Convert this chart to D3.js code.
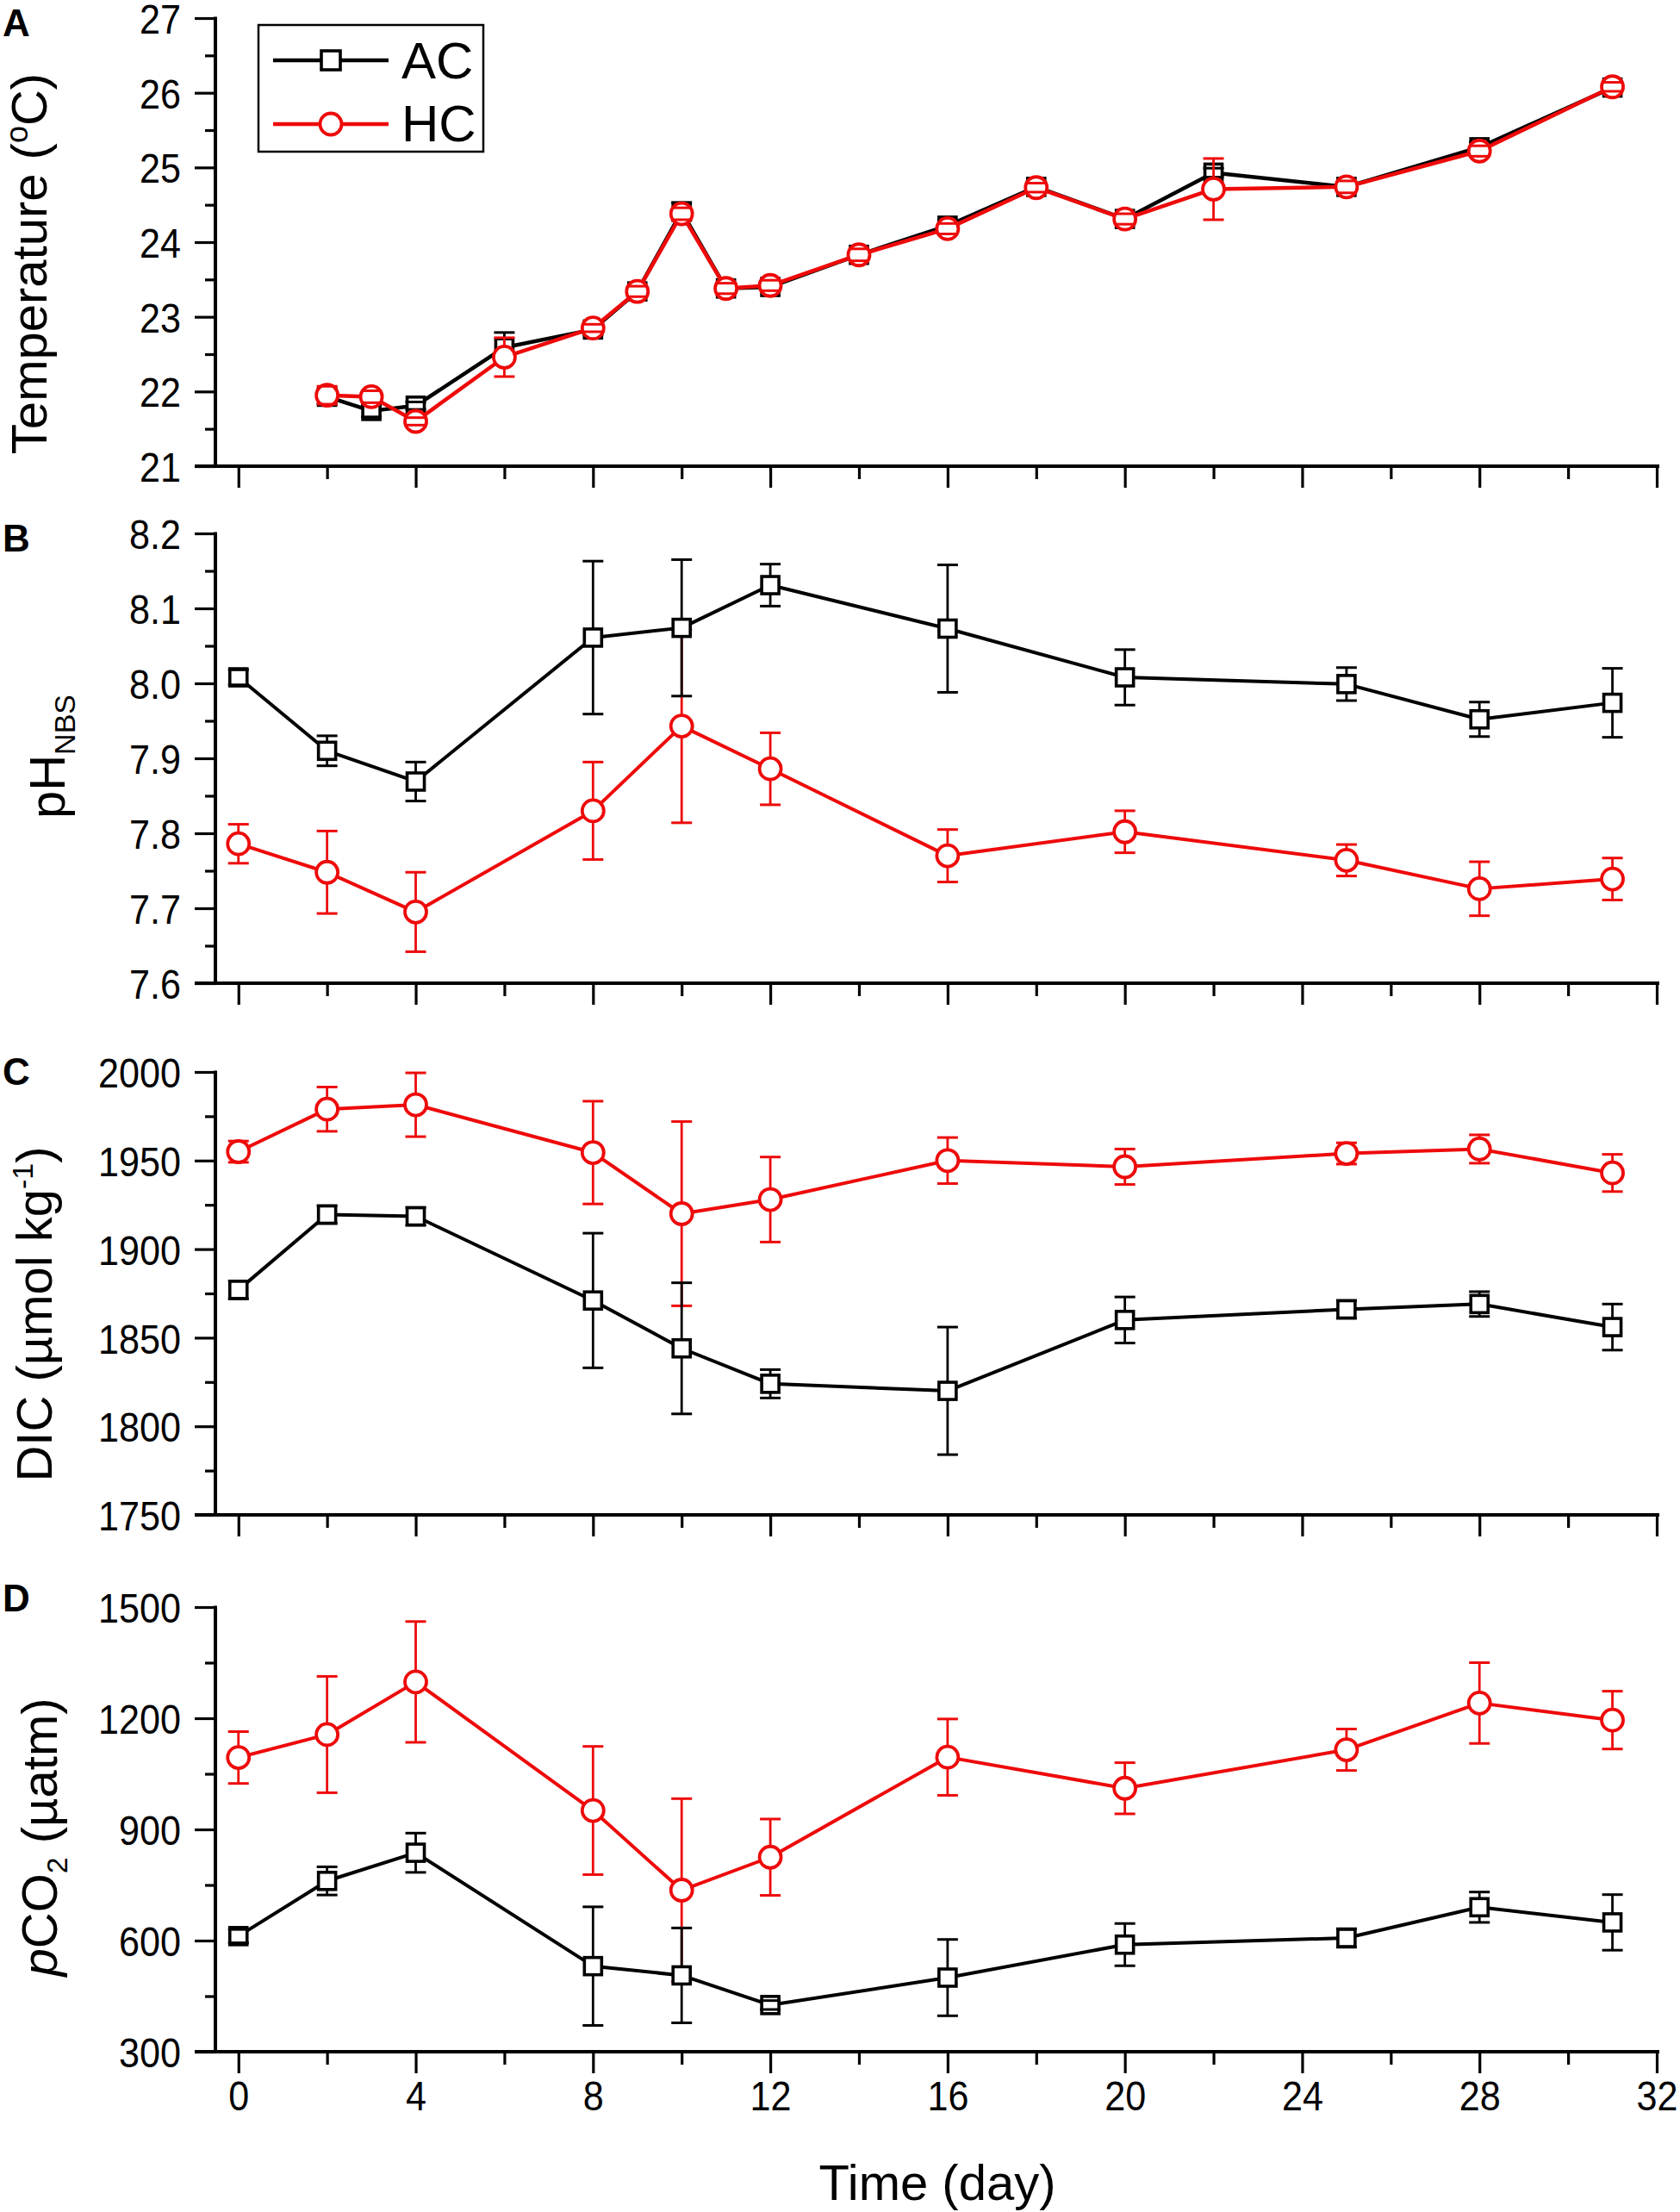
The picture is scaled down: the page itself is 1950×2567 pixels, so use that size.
<!DOCTYPE html>
<html><head><meta charset="utf-8">
<script src="https://cdn.jsdelivr.net/npm/d3@7"></script>
<style>
body{margin:0;background:#fff}
text{font-family:"Liberation Sans",Arial,Helvetica,sans-serif;fill:#000}
</style>
</head><body>
<svg id="c" width="1950" height="2567" xmlns="http://www.w3.org/2000/svg"></svg>
<script>
// ---------------- DATA ----------------
const tempDays  = [2,3,4,6,8,9,10,11,12,14,16,18,20,22,25,28,31];
const tempAC    = [21.93,21.74,21.81,22.59,22.83,23.34,24.41,23.38,23.40,23.83,24.22,24.74,24.31,24.93,24.74,25.27,26.07];
const tempACerr = [0.10,0.08,0.05,0.20,0.07,0.07,0.12,0.07,0.06,0.06,0.07,0.07,0.06,0.06,0.06,0.07,0.06];
const tempHC    = [21.95,21.93,21.60,22.46,22.85,23.34,24.38,23.38,23.42,23.83,24.18,24.73,24.31,24.71,24.74,25.22,26.08];
const tempHCerr = [0.12,0.08,0.05,0.26,0.05,0.07,0.08,0.07,0.07,0.08,0.07,0.06,0.07,0.41,0.08,0.07,0.06];

const chemDays  = [0,2,4,8,10,12,16,20,25,28,31];
const phAC      = [8.008,7.910,7.869,8.061,8.074,8.131,8.073,8.008,7.999,7.952,7.974];
const phACerr   = [0.010,0.020,0.026,0.102,0.091,0.028,0.085,0.037,0.022,0.023,0.046];
const phHC      = [7.786,7.748,7.695,7.830,7.943,7.886,7.770,7.802,7.764,7.726,7.739];
const phHCerr   = [0.026,0.055,0.053,0.065,0.129,0.048,0.035,0.028,0.021,0.036,0.028];

const dicAC     = [1877,1919.5,1918.5,1871,1844,1824,1820,1860,1866,1869,1856];
const dicACerr  = [5,5,5,38,37,8,36,13,5,7,13];
const dicHC     = [1955,1979,1981.5,1954.5,1920,1928,1950,1946.5,1954,1956.5,1943];
const dicHCerr  = [6,12.5,18,29,52,24,13,10,6,8,10.5];

const pco2AC    = [612,761,837,531,506,426,500,589,607,690,649];
const pco2ACerr = [18,38,53,160,128,12,103,57,25,41,75];
const pco2HC    = [1094,1156,1298,951,736,825,1095,1011,1115,1241,1195];
const pco2HCerr = [70,157,163,173,247,103,103,69,56,109,78];

const xMajorTicks = [0,4,8,12,16,20,24,28,32];
const xMinorTicks = [2,6,10,14,18,22,26,30];
const tempTicks = [21,22,23,24,25,26,27];
const tempMinor = [21.5,22.5,23.5,24.5,25.5,26.5];
const phTicks   = [7.6,7.7,7.8,7.9,8.0,8.1,8.2];
const phMinor   = [7.65,7.75,7.85,7.95,8.05,8.15];
const dicTicks  = [1750,1800,1850,1900,1950,2000];
const dicMinor  = [1775,1825,1875,1925,1975];
const pco2Ticks = [300,600,900,1200,1500];
const pco2Minor = [450,750,1050,1350];
const seriesNames = ["AC","HC"];

// ---------------- DRAW ----------------
const RED = "#ee0a0a", BLACK = "#000000";
const FONT = '"Liberation Sans",Arial,sans-serif';
const SX = 0.88;          // horizontal condensing of tick labels
const svg = d3.select("#c");
svg.append("rect").attr("width",1950).attr("height",2567).attr("fill","#fff");

const x = d3.scaleLinear().domain([-0.52,32]).range([250,1923]);
const xAxisEnd = 1926;

const panels = [
  {letter:"A", letterY:42, top:21, bottom:541, domain:[21,27], major:tempTicks, minor:tempMinor, fmt:d3.format("d"),
   days:tempDays, ac:tempAC, acErr:tempACerr, hc:tempHC, hcErr:tempHCerr, hcOnTop:true, lw:4.5},
  {letter:"B", letterY:640, top:619, bottom:1141, domain:[7.6,8.2], major:phTicks, minor:phMinor, fmt:d3.format(".1f"),
   days:chemDays, ac:phAC, acErr:phACerr, hc:phHC, hcErr:phHCerr, hcOnTop:false, lw:4},
  {letter:"C", letterY:1259, top:1244, bottom:1758, domain:[1750,2000], major:dicTicks, minor:dicMinor, fmt:d3.format("d"),
   days:chemDays, ac:dicAC, acErr:dicACerr, hc:dicHC, hcErr:dicHCerr, hcOnTop:false, lw:4},
  {letter:"D", letterY:1870, top:1865, bottom:2381, domain:[300,1500], major:pco2Ticks, minor:pco2Minor, fmt:d3.format("d"),
   days:chemDays, ac:pco2AC, acErr:pco2ACerr, hc:pco2HC, hcErr:pco2HCerr, hcOnTop:false, lw:4}
];

panels.forEach((p, pi) => {
  const y = d3.scaleLinear().domain(p.domain).range([p.bottom, p.top]);
  const g = svg.append("g");
  const x0 = x.range()[0];

  // y axis ticks
  const yMaj = g.append("g").attr("transform",`translate(${x0},0)`)
    .call(d3.axisLeft(y).tickValues(p.major).tickFormat(p.fmt).tickSize(24).tickPadding(16));
  yMaj.select(".domain").remove();
  yMaj.selectAll("line").attr("stroke",BLACK).attr("stroke-width",3.2);
  yMaj.selectAll("text").attr("font-size",49).attr("font-family",FONT).attr("dy","0.36em").attr("fill",BLACK)
    .attr("x", -40/SX).attr("transform",`scale(${SX},1)`);
  const yMin = g.append("g").attr("transform",`translate(${x0},0)`)
    .call(d3.axisLeft(y).tickValues(p.minor).tickFormat("").tickSize(12));
  yMin.select(".domain").remove();
  yMin.selectAll("line").attr("stroke",BLACK).attr("stroke-width",3.2);

  // x axis ticks
  const isBottom = pi === panels.length-1;
  const xMaj = g.append("g").attr("transform",`translate(0,${p.bottom})`)
    .call(d3.axisBottom(x).tickValues(xMajorTicks).tickFormat(isBottom ? d3.format("d") : "").tickSize(25));
  xMaj.select(".domain").remove();
  xMaj.selectAll("line").attr("stroke",BLACK).attr("stroke-width",3.2);
  if (isBottom) {
    xMaj.selectAll("text").attr("font-size",49).attr("font-family",FONT)
      .attr("y",68).attr("dy",0).attr("fill",BLACK).attr("transform",`scale(${SX},1)`);
  }
  const xMin = g.append("g").attr("transform",`translate(0,${p.bottom})`)
    .call(d3.axisBottom(x).tickValues(xMinorTicks).tickFormat("").tickSize(15));
  xMin.select(".domain").remove();
  xMin.selectAll("line").attr("stroke",BLACK).attr("stroke-width",3.2);

  // axis lines
  g.append("line").attr("x1",x0).attr("x2",x0).attr("y1",p.top-1.6).attr("y2",p.bottom)
    .attr("stroke",BLACK).attr("stroke-width",4);
  g.append("line").attr("x1",x0-24).attr("x2",xAxisEnd).attr("y1",p.bottom).attr("y2",p.bottom)
    .attr("stroke",BLACK).attr("stroke-width",4);

  // panel letter
  g.append("text").attr("x",3).attr("y",p.letterY).attr("font-size",44).attr("font-weight","bold").text(p.letter);

  // series
  const series = [
    {name:"AC", vals:p.ac, errs:p.acErr, color:BLACK, shape:"square"},
    {name:"HC", vals:p.hc, errs:p.hcErr, color:RED, shape:"circle"}
  ];
  const order = p.hcOnTop ? [series[0],series[1]] : [series[1],series[0]];
  order.forEach(s => {
    const pts = p.days.map((d,i)=>({d, v:s.vals[i], e:s.errs[i]}));
    const sg = g.append("g");
    // error bar stems
    sg.append("g").selectAll("line").data(pts).join("line")
      .attr("x1",d=>x(d.d)).attr("x2",d=>x(d.d))
      .attr("y1",d=>y(d.v+d.e)).attr("y2",d=>y(d.v-d.e))
      .attr("stroke",s.color).attr("stroke-width",2.8);
    // connecting line
    sg.append("path").datum(pts)
      .attr("d", d3.line().x(d=>x(d.d)).y(d=>y(d.v)))
      .attr("fill","none").attr("stroke",s.color).attr("stroke-width",p.lw).attr("stroke-linejoin","round");
    // markers
    const mg = sg.append("g");
    if (s.shape==="square") {
      mg.selectAll("rect").data(pts).join("rect")
        .attr("x",d=>x(d.d)-10).attr("y",d=>y(d.v)-10).attr("width",20).attr("height",20)
        .attr("fill","#fff").attr("stroke",s.color).attr("stroke-width",3.6);
    } else {
      mg.selectAll("circle").data(pts).join("circle")
        .attr("cx",d=>x(d.d)).attr("cy",d=>y(d.v)).attr("r",12.5)
        .attr("fill","#fff").attr("stroke",s.color).attr("stroke-width",3.8);
    }
    // caps
    [1,-1].forEach(sign => {
      sg.append("g").selectAll("line").data(pts).join("line")
        .attr("x1",d=>x(d.d)-12).attr("x2",d=>x(d.d)+12)
        .attr("y1",d=>y(d.v+sign*d.e)).attr("y2",d=>y(d.v+sign*d.e))
        .attr("stroke",s.color).attr("stroke-width",3);
    });
  });
});

// ---------------- AXIS TITLES ----------------
function ylab(bx, cy){
  return svg.append("text").attr("text-anchor","middle").attr("font-size",58)
    .attr("transform",`translate(${bx},${cy}) rotate(-90)`);
}
{
  const t = ylab(54, 306);
  t.append("tspan").text("Temperature (");
  t.append("tspan").attr("font-size",36).attr("dy",-22).text("o");
  t.append("tspan").attr("dy",22).text("C)");
}
{
  const t = ylab(75, 878);
  t.append("tspan").text("pH");
  t.append("tspan").attr("font-size",34).attr("dy",12).text("NBS");
}
{
  const t = ylab(60, 1525);
  t.append("tspan").text("DIC (\u00B5mol kg");
  t.append("tspan").attr("font-size",34).attr("dy",-22).text("-1");
  t.append("tspan").attr("dy",22).text(")");
}
{
  const t = ylab(66, 2132);
  t.append("tspan").attr("font-style","italic").text("p");
  t.append("tspan").text("CO");
  t.append("tspan").attr("font-size",34).attr("dy",12).text("2");
  t.append("tspan").attr("dy",-12).text(" (\u00B5atm)");
}
svg.append("text").attr("x",1088).attr("y",2553).attr("text-anchor","middle").attr("font-size",58).text("Time (day)");

// ---------------- LEGEND ----------------
const lg = svg.append("g");
lg.append("rect").attr("x",300).attr("y",29).attr("width",261).attr("height",147)
  .attr("fill","#fff").attr("stroke",BLACK).attr("stroke-width",2.5);
const legendItems = [
  {name:seriesNames[0], color:BLACK, shape:"square", y:70, base:91},
  {name:seriesNames[1], color:RED, shape:"circle", y:144, base:164}
];
legendItems.forEach(it => {
  lg.append("line").attr("x1",317).attr("x2",451).attr("y1",it.y).attr("y2",it.y)
    .attr("stroke",it.color).attr("stroke-width",4.5);
  if (it.shape==="square")
    lg.append("rect").attr("x",373).attr("y",it.y-11).attr("width",22).attr("height",22)
      .attr("fill","#fff").attr("stroke",it.color).attr("stroke-width",3.6);
  else
    lg.append("circle").attr("cx",384).attr("cy",it.y).attr("r",12.5)
      .attr("fill","#fff").attr("stroke",it.color).attr("stroke-width",3.8);
  lg.append("text").attr("x",466).attr("y",it.base).attr("font-size",60).text(it.name);
});
</script>
</body></html>
